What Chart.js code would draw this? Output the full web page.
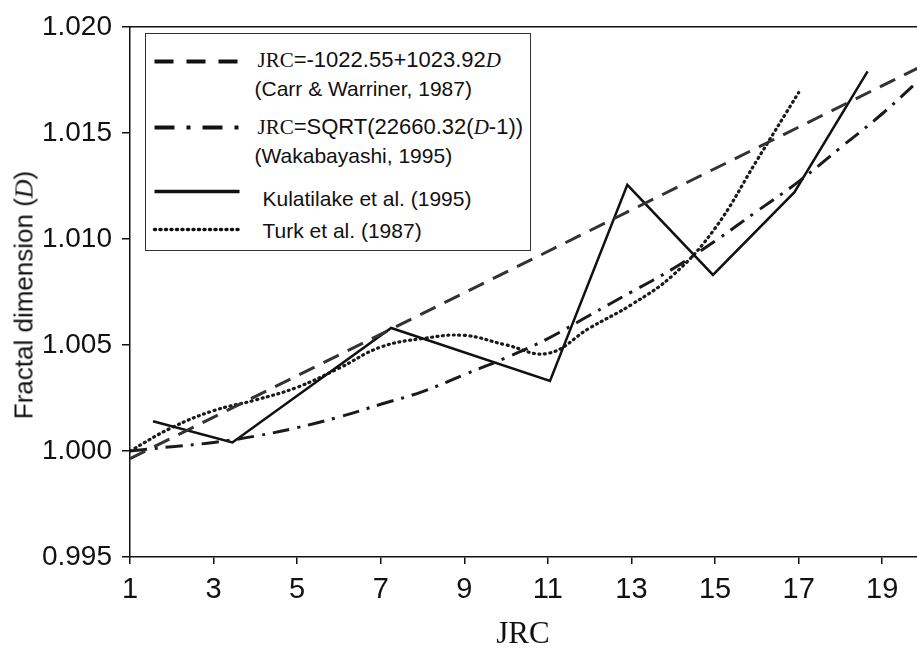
<!DOCTYPE html>
<html>
<head>
<meta charset="utf-8">
<script src="https://cdn.jsdelivr.net/npm/chart.js@4.4.1/dist/chart.umd.min.js"></script>
<style>
  html, body { margin:0; padding:0; background:#fff; width:917px; height:653px; overflow:hidden; }
  #wrap { position:relative; width:924px; height:653px; }
  canvas { position:absolute; left:0; top:0; }
  .serif { font-family: 'Liberation Serif', 'Times New Roman', serif; }
  .it { font-style: italic; }
  #legend { position:absolute; left:145px; top:33px; width:384px; height:216px; border:1.5px solid #333; background:#fff; }
  .lt { position:absolute; white-space:nowrap; font-size:21px; line-height:21px; color:#111; font-family:'Liberation Sans', Arial, sans-serif; }
  .lt.big { font-size:22px; }
  .lt .serif { font-size:21px; }
  svg.samp { position:absolute; left:0; top:0; }
  #ytitle { position:absolute; left:24px; top:295px; transform: translate(-50%,-50%) rotate(-90deg); white-space:nowrap; font-size:26px; color:#111; font-family:'Liberation Sans Narrow','Liberation Sans', Arial, sans-serif; }
  #ytitle .serif { font-size:26px; }
  #xtitle { position:absolute; left:523px; top:633px; transform: translate(-50%,-50%); white-space:nowrap; font-size:31px; color:#111; font-family:'Liberation Serif','Times New Roman', serif; }
</style>
</head>
<body>
<div id="wrap">
  <canvas id="c" width="924" height="653"></canvas>
  <div id="ytitle">Fractal dimension (<span class="serif it">D</span>)</div>
  <div id="xtitle">JRC</div>
  <div id="legend"></div>
</div>
<script>
// ---- data ----
const xTicks = [1, 3, 5, 7, 9, 11, 13, 15, 17, 19];
const yTicks = [0.995, 1.000, 1.005, 1.010, 1.015, 1.020];

// Carr & Warriner (1987) – straight line, end points
const carrJRC = [1, 20];
const carrD   = [0.99964, 1.0182];

// Wakabayashi (1995)
const wakaJRC = [1, 2, 3, 4, 5, 6, 7, 8, 9, 10, 11, 12, 13, 14, 15, 16, 17, 18, 19, 20];
const wakaD   = [1.0000, 1.0002, 1.0004, 1.0007, 1.0011, 1.0016, 1.0022, 1.0028, 1.0036, 1.0044,
                 1.0053, 1.0064, 1.0075, 1.0086, 1.0099, 1.0113, 1.0127, 1.0143, 1.0159, 1.0177];

// Kulatilake et al. (1995)
const kulaJRC = [1.55, 3.45, 7.25, 11.05, 12.9, 14.95, 16.9, 18.65];
const kulaD   = [1.0014, 1.0004, 1.0058, 1.0033, 1.01255, 1.0083, 1.0122, 1.0179];

// Turk et al. (1987)
const turkJRC = [1, 2, 3, 4, 5, 6, 7, 8, 9, 10, 11, 12, 13, 14, 15, 16, 17];
const turkD   = [1.0000, 1.0011, 1.0019, 1.0024, 1.0030, 1.0039, 1.0049, 1.0053, 1.00545, 1.0050,
                 1.0046, 1.0058, 1.0069, 1.0083, 1.0105, 1.0137, 1.0169];

const pts = (xs, ys) => xs.map((x, i) => ({ x: x, y: ys[i] }));

const frame = {
  id: 'frame',
  afterDraw(chart) {
    const { ctx, chartArea } = chart;
    ctx.save();
    ctx.strokeStyle = '#111';
    ctx.lineWidth = 1.5;
    ctx.beginPath();
    ctx.moveTo(chartArea.left, chartArea.top);
    ctx.lineTo(chartArea.right, chartArea.top);
    ctx.stroke();
    ctx.restore();
  }
};

new Chart(document.getElementById('c'), {
  type: 'line',
  data: {
    datasets: [
      { label: 'Carr', data: pts(carrJRC, carrD), borderColor: '#333', borderWidth: 3, borderDash: [17, 10], tension: 0 },
      { label: 'Waka', data: pts(wakaJRC, wakaD), borderColor: '#1a1a1a', borderWidth: 3, borderDash: [17, 8, 3, 8], tension: 0.4 },
      { label: 'Kula', data: pts(kulaJRC, kulaD), borderColor: '#111', borderWidth: 2.5, tension: 0 },
      { label: 'Turk', data: pts(turkJRC, turkD), borderColor: '#1a1a1a', borderWidth: 3.2, borderDash: [1, 4.5], borderCapStyle: 'round', tension: 0.4 }
    ]
  },
  options: {
    responsive: false,
    animation: false,
    layout: { padding: { top: 26, right: 0, left: 0, bottom: 0 } },
    elements: { point: { radius: 0 } },
    plugins: { legend: { display: false }, tooltip: { enabled: false } },
    scales: {
      x: {
        type: 'linear', min: 1, max: 20,
        afterBuildTicks: s => { s.ticks = xTicks.map(v => ({ value: v })); },
        afterFit: s => { s.height = 96; },
        border: { display: true, color: '#111', width: 1.5 },
        grid: { drawOnChartArea: false, drawTicks: true, tickLength: 7, color: '#111', lineWidth: 1.5 },
        ticks: { color: '#111', padding: 9, maxRotation: 0, autoSkip: false,
                 font: { family: "'Liberation Sans Narrow', 'Liberation Sans', Arial, sans-serif", size: 29 } }
      },
      y: {
        type: 'linear', min: 0.995, max: 1.020,
        afterBuildTicks: s => { s.ticks = yTicks.map(v => ({ value: v })); },
        afterFit: s => { s.width = 130; },
        border: { display: true, color: '#111', width: 1.5 },
        grid: { drawOnChartArea: false, drawTicks: true, tickLength: 8, color: '#111', lineWidth: 1.5 },
        ticks: { color: '#111', padding: 10, callback: v => v.toFixed(3),
                 font: { family: "'Liberation Sans', Arial, sans-serif", size: 28 } }
      }
    }
  },
  plugins: [frame]
});

// ---- legend (HTML, mixed fonts) ----
const legend = document.getElementById('legend');
const L0 = 145, T0 = 33; // legend box origin in page coords
const legendRows = [
  { html: '<span class="serif">JRC</span>=-1022.55+1023.92<span class="serif it">D</span>', x: 258, base: 68, big: true },
  { html: '(Carr &amp; Warriner, 1987)', x: 255, base: 96 },
  { html: '<span class="serif">JRC</span>=SQRT(22660.32(<span class="serif it">D</span>-1))', x: 258, base: 135, big: true },
  { html: '(Wakabayashi, 1995)', x: 255, base: 163 },
  { html: 'Kulatilake et al. (1995)', x: 263, base: 206 },
  { html: 'Turk et al. (1987)', x: 263, base: 238 }
];
legendRows.forEach(r => {
  const d = document.createElement('div');
  d.className = 'lt' + (r.big ? ' big' : '');
  d.innerHTML = r.html;
  const fs = r.big ? 22 : 21;
  d.style.left = (r.x - L0 - 1.5) + 'px';
  d.style.top = (r.base - (fs * 0.905 - (fs * 1.117 - fs) / 2) - T0 - 1.5) + 'px';
  legend.appendChild(d);
});
const samples = [
  { y: 62, dash: '19 13', w: 4, cap: 'butt' },
  { y: 128, dash: '20 12 4 12', w: 4, cap: 'butt' },
  { y: 192, dash: '', w: 3.5, cap: 'butt' },
  { y: 230, dash: '1 4.5', w: 3.5, cap: 'round' }
];
const svgNS = 'http://www.w3.org/2000/svg';
const svg = document.createElementNS(svgNS, 'svg');
svg.setAttribute('class', 'samp');
svg.setAttribute('width', '384'); svg.setAttribute('height', '216');
samples.forEach(s => {
  const ln = document.createElementNS(svgNS, 'line');
  ln.setAttribute('x1', 155 - L0 - 1.5); ln.setAttribute('x2', 240 - L0 - 1.5);
  ln.setAttribute('y1', s.y - T0 - 1.5); ln.setAttribute('y2', s.y - T0 - 1.5);
  ln.setAttribute('stroke', '#111'); ln.setAttribute('stroke-width', s.w);
  ln.setAttribute('stroke-linecap', s.cap);
  if (s.dash) ln.setAttribute('stroke-dasharray', s.dash);
  svg.appendChild(ln);
});
legend.appendChild(svg);
</script>
</body>
</html>
